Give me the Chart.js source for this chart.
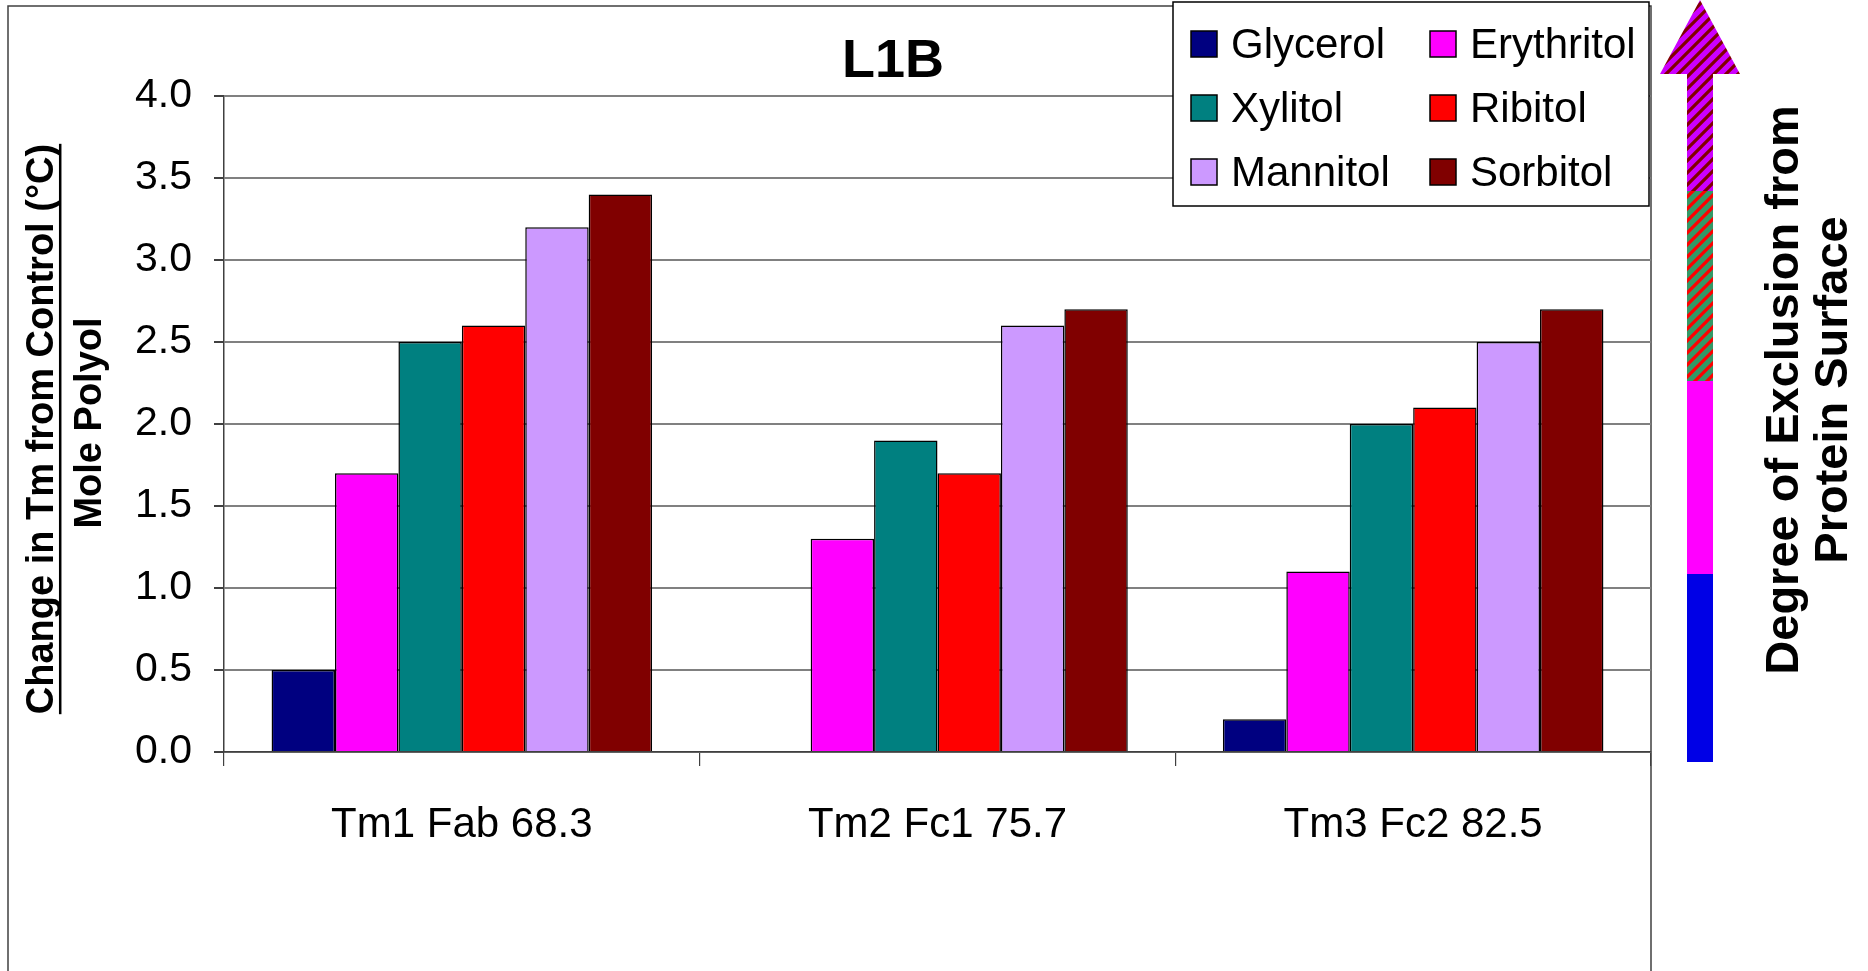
<!DOCTYPE html>
<html>
<head>
<meta charset="utf-8">
<title>L1B</title>
<script src="https://cdn.jsdelivr.net/npm/chart.js@4.4.1/dist/chart.umd.min.js"></script>
<style>
    html, body { margin: 0; padding: 0; background: #fff; overflow: hidden; }
    #chart { display: block; }
</style>
</head>
<body>
<canvas id="chart" width="1868" height="971"></canvas>
<script>
    const categories = ['Tm1 Fab 68.3', 'Tm2 Fc1 75.7', 'Tm3 Fc2 82.5'];
    const polyols = ['Glycerol', 'Erythritol', 'Xylitol', 'Ribitol', 'Mannitol', 'Sorbitol'];
    const glycerol = [0.5, 0.0, 0.2];
    const erythritol = [1.7, 1.3, 1.1];
    const xylitol = [2.5, 1.9, 2.0];
    const ribitol = [2.6, 1.7, 2.1];
    const mannitol = [3.2, 2.6, 2.5];
    const sorbitol = [3.4, 2.7, 2.7];
    const yTicks = [0.0, 0.5, 1.0, 1.5, 2.0, 2.5, 3.0, 3.5, 4.0];

    const seriesValues = [glycerol, erythritol, xylitol, ribitol, mannitol, sorbitol];
    const seriesColors = ['#000080', '#ff00ff', '#008080', '#ff0000', '#cc99ff', '#800000'];

    const FONT = "'Liberation Sans', Arial, sans-serif";
    Chart.defaults.font.family = FONT;
    Chart.defaults.color = '#000';

    function stripes(bg, fg) {
        const c = document.createElement('canvas');
        c.width = 12;
        c.height = 12;
        const g = c.getContext('2d');
        g.fillStyle = bg;
        g.fillRect(0, 0, 12, 12);
        g.strokeStyle = fg;
        g.lineWidth = 3.2;
        g.beginPath();
        g.moveTo(-2, 14); g.lineTo(14, -2);
        g.moveTo(-2, 2); g.lineTo(2, -2);
        g.moveTo(10, 14); g.lineTo(14, 10);
        g.stroke();
        return g.createPattern(c, 'repeat');
    }

    function rotatedText(ctx, text, x, y, size, underline) {
        ctx.save();
        ctx.translate(x, y);
        ctx.rotate(-Math.PI / 2);
        ctx.font = 'bold ' + size + 'px ' + FONT;
        ctx.fillStyle = '#000';
        ctx.textAlign = 'center';
        ctx.textBaseline = 'middle';
        ctx.fillText(text, 0, 0);
        if (underline) {
            let w = ctx.measureText(text).width;
            ctx.fillRect(-w / 2, size * 0.42, w, 2.5);
        }
        ctx.restore();
    }

    // frame, title, legend, side arrow and rotated captions
    const decorations = {
        id: 'decorations',
        beforeDraw(chart) {
            const ctx = chart.ctx;
            ctx.save();
            ctx.strokeStyle = '#404040';
            ctx.lineWidth = 1.5;
            ctx.beginPath();
            ctx.moveTo(8, 971);
            ctx.lineTo(8, 6);
            ctx.lineTo(1651, 6);
            ctx.lineTo(1651, 971);
            ctx.stroke();
            ctx.restore();
        },
        afterDraw(chart) {
            const ctx = chart.ctx;
            ctx.save();

            ctx.font = 'bold 54px ' + FONT;
            ctx.fillStyle = '#000';
            ctx.textAlign = 'center';
            ctx.textBaseline = 'middle';
            ctx.fillText('L1B', 893, 62);

            // legend
            ctx.fillStyle = '#fff';
            ctx.fillRect(1173, 2, 476, 204);
            ctx.strokeStyle = '#000';
            ctx.lineWidth = 1.5;
            ctx.strokeRect(1173, 2, 476, 204);
            ctx.font = '42px ' + FONT;
            ctx.textAlign = 'left';
            chart.data.datasets.forEach((ds, i) => {
                let col = i % 2;
                let row = Math.floor(i / 2);
                let bx = col === 0 ? 1191 : 1430;
                let cy = 44 + row * 64;
                ctx.fillStyle = ds.backgroundColor;
                ctx.fillRect(bx, cy - 13, 26, 26);
                ctx.strokeStyle = '#000';
                ctx.lineWidth = 1.5;
                ctx.strokeRect(bx, cy - 13, 26, 26);
                ctx.fillStyle = '#000';
                ctx.fillText(ds.label, bx + 40, cy + 2);
            });

            // exclusion arrow
            ctx.fillStyle = '#0000e6';
            ctx.fillRect(1687, 574, 26, 188);
            ctx.fillStyle = '#ff00ff';
            ctx.fillRect(1687, 381, 26, 193);
            ctx.fillStyle = stripes('#339966', '#ff0000');
            ctx.fillRect(1687, 191, 26, 190);
            ctx.fillStyle = stripes('#cc00ff', '#800000');
            ctx.beginPath();
            ctx.moveTo(1687, 191);
            ctx.lineTo(1687, 74);
            ctx.lineTo(1660, 74);
            ctx.lineTo(1700, 0);
            ctx.lineTo(1740, 74);
            ctx.lineTo(1713, 74);
            ctx.lineTo(1713, 191);
            ctx.closePath();
            ctx.fill();

            rotatedText(ctx, 'Change in Tm from Control (°C)', 43, 429, 38, true);
            rotatedText(ctx, 'Mole Polyol', 91, 423, 38, false);
            rotatedText(ctx, 'Degree of Exclusion from', 1785, 390, 47, false);
            rotatedText(ctx, 'Protein Surface', 1834, 390, 47, false);

            ctx.restore();
        }
    };

    new Chart(document.getElementById('chart'), {
        type: 'bar',
        data: {
            labels: categories,
            datasets: polyols.map((name, i) => ({
                label: name,
                data: seriesValues[i],
                backgroundColor: seriesColors[i],
                borderColor: '#000',
                borderWidth: 1.5,
                categoryPercentage: 0.8,
                barPercentage: 1.0
            }))
        },
        options: {
            responsive: false,
            animation: false,
            devicePixelRatio: 1,
            layout: {
                padding: {left: 124, right: 217, top: 96, bottom: 0}
            },
            plugins: {
                legend: {display: false},
                title: {display: false},
                tooltip: {enabled: false}
            },
            scales: {
                x: {
                    afterFit: scale => { scale.height = 219; },
                    grid: {
                        drawOnChartArea: false,
                        drawTicks: true,
                        tickLength: 14,
                        color: '#404040',
                        lineWidth: 1.2
                    },
                    border: {display: true, color: '#404040', width: 1.5},
                    ticks: {
                        font: {size: 42},
                        color: '#000',
                        padding: 34,
                        maxRotation: 0
                    }
                },
                y: {
                    min: 0,
                    max: 4,
                    afterFit: scale => { scale.width = 100; },
                    afterBuildTicks: scale => {
                        scale.ticks = yTicks.map(v => ({value: v}));
                    },
                    grid: {
                        color: '#808080',
                        lineWidth: 2,
                        tickLength: 10,
                        tickColor: '#404040'
                    },
                    border: {display: true, color: '#404040', width: 1.5},
                    ticks: {
                        font: {size: 41},
                        color: '#000',
                        padding: 22,
                        callback: v => Number(v).toFixed(1)
                    }
                }
            }
        },
        plugins: [decorations]
    });
</script>
</body>
</html>
